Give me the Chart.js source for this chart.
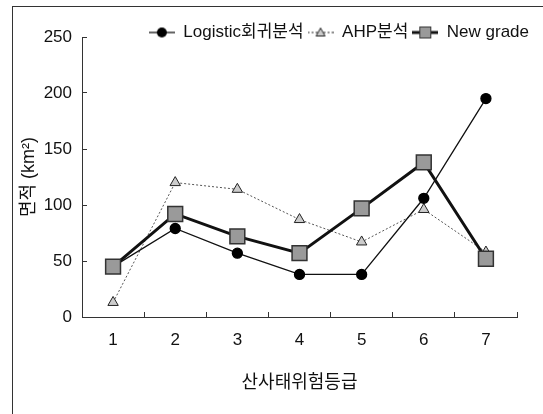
<!DOCTYPE html>
<html>
<head>
<meta charset="utf-8">
<script src="https://cdn.jsdelivr.net/npm/chart.js@4.4.0/dist/chart.umd.min.js"></script>
<style>
  html, body { margin: 0; padding: 0; background: #fff; }
  #wrap { position: relative; width: 543px; height: 414px; }
  #frame { position: absolute; left: 12px; top: 6px; right: 0; bottom: 0;
           border-top: 1px solid #333; border-left: 1px solid #333; pointer-events: none; }
</style>
</head>
<body>
<div id="wrap">
  <canvas id="areaChart" width="543" height="414"></canvas>
  <div id="frame"></div>
</div>
<script>
// 산사태위험등급별 면적
const grades = ['1', '2', '3', '4', '5', '6', '7'];
const logisticArea = [45, 79, 57, 38, 38, 106, 195];
const ahpArea = [13, 120, 114, 87, 67, 96, 58];
const newGradeArea = [45, 92, 72, 57, 97, 138, 52];
const seriesNames = ['Logistic회귀분석', 'AHP분석', 'New grade'];

const FONT = "'Liberation Sans', Arial, 'Noto Sans CJK KR', sans-serif";

// legend icon: short line with the series marker on it
function makeIcon(kind) {
    const c = document.createElement('canvas');
    c.width = 26;
    c.height = 16;
    const g = c.getContext('2d');
    g.strokeStyle = kind === 'ahp' ? '#555' : '#111';
    g.lineWidth = kind === 'new' ? 3 : 1.3;
    if (kind === 'ahp') g.setLineDash([2, 2]);
    g.beginPath();
    g.moveTo(0, 8);
    g.lineTo(26, 8);
    g.stroke();
    g.setLineDash([]);
    g.lineWidth = 1;
    if (kind === 'logistic') {
        g.fillStyle = '#000';
        g.beginPath();
        g.arc(13, 8, 5, 0, Math.PI * 2);
        g.fill();
    } else if (kind === 'ahp') {
        g.fillStyle = '#ccc';
        g.strokeStyle = '#222';
        g.beginPath();
        g.moveTo(13, 3.5);
        g.lineTo(17.5, 11.5);
        g.lineTo(8.5, 11.5);
        g.closePath();
        g.fill();
        g.stroke();
    } else {
        g.fillStyle = '#9a9a9a';
        g.strokeStyle = '#333';
        g.fillRect(7, 2, 12, 12);
        g.strokeRect(7.5, 2.5, 11, 11);
    }
    return c;
}
const icons = [makeIcon('logistic'), makeIcon('ahp'), makeIcon('new')];

// move the legend down/right so it sits just above the plot like the original
const legendShift = {
    id: 'legendShift',
    afterLayout(chart) {
        const l = chart.legend;
        l.left += 16;
        l.right += 16;
        l.top += 14;
        l.bottom += 14;
    }
};

const ctx = document.getElementById('areaChart').getContext('2d');
new Chart(ctx, {
    type: 'line',
    data: {
        labels: grades,
        datasets: [
            {
                label: seriesNames[0],
                data: logisticArea,
                borderColor: '#111',
                borderWidth: 1.3,
                pointStyle: 'circle',
                pointRadius: 5,
                pointBackgroundColor: '#000',
                pointBorderColor: '#000',
                order: 1
            },
            {
                label: seriesNames[1],
                data: ahpArea,
                borderColor: '#555',
                borderWidth: 1,
                borderDash: [2, 2],
                pointStyle: 'triangle',
                pointRadius: 6,
                pointBackgroundColor: '#ccc',
                pointBorderColor: '#222',
                pointBorderWidth: 1,
                order: 2
            },
            {
                label: seriesNames[2],
                data: newGradeArea,
                borderColor: '#111',
                borderWidth: 3,
                pointStyle: 'rect',
                pointRadius: 10.5,
                pointBackgroundColor: '#9a9a9a',
                pointBorderColor: '#333',
                pointBorderWidth: 1.5,
                order: 0
            }
        ]
    },
    plugins: [legendShift],
    options: {
        responsive: false,
        animation: false,
        layout: { padding: { top: 6, right: 26, left: 0, bottom: 0 } },
        elements: { line: { tension: 0 } },
        scales: {
            x: {
                offset: true,
                grid: { offset: true, drawOnChartArea: false, tickLength: -5, color: '#333' },
                border: { color: '#333', width: 1 },
                ticks: { color: '#111', padding: 18, font: { family: FONT, size: 17 } },
                title: {
                    display: true,
                    text: '산사태위험등급',
                    color: '#111',
                    font: { family: FONT, size: 18 },
                    padding: { top: 0, bottom: 20 }
                },
                afterFit: (scale) => { scale.height = 97; }
            },
            y: {
                min: 0,
                max: 250,
                ticks: { stepSize: 50, color: '#111', padding: 15, font: { family: FONT, size: 17 } },
                grid: { drawOnChartArea: false, tickLength: -5, color: '#333' },
                border: { color: '#333', width: 1 },
                title: {
                    display: true,
                    text: '면적 (km²)',
                    color: '#111',
                    font: { family: FONT, size: 18 },
                    padding: { top: 18, bottom: 0 }
                },
                afterFit: (scale) => { scale.width = 82; }
            }
        },
        plugins: {
            legend: {
                position: 'top',
                align: 'end',
                labels: {
                    color: '#111',
                    font: { family: FONT, size: 17 },
                    usePointStyle: true,
                    pointStyleWidth: 26,
                    padding: 4,
                    generateLabels: (chart) => chart.data.datasets.map((ds, i) => ({
                        text: ds.label,
                        pointStyle: icons[i],
                        fillStyle: '#fff',
                        strokeStyle: '#fff',
                        lineWidth: 0,
                        fontColor: '#111',
                        datasetIndex: i
                    }))
                }
            },
            tooltip: { enabled: false }
        }
    }
});
</script>
</body>
</html>
